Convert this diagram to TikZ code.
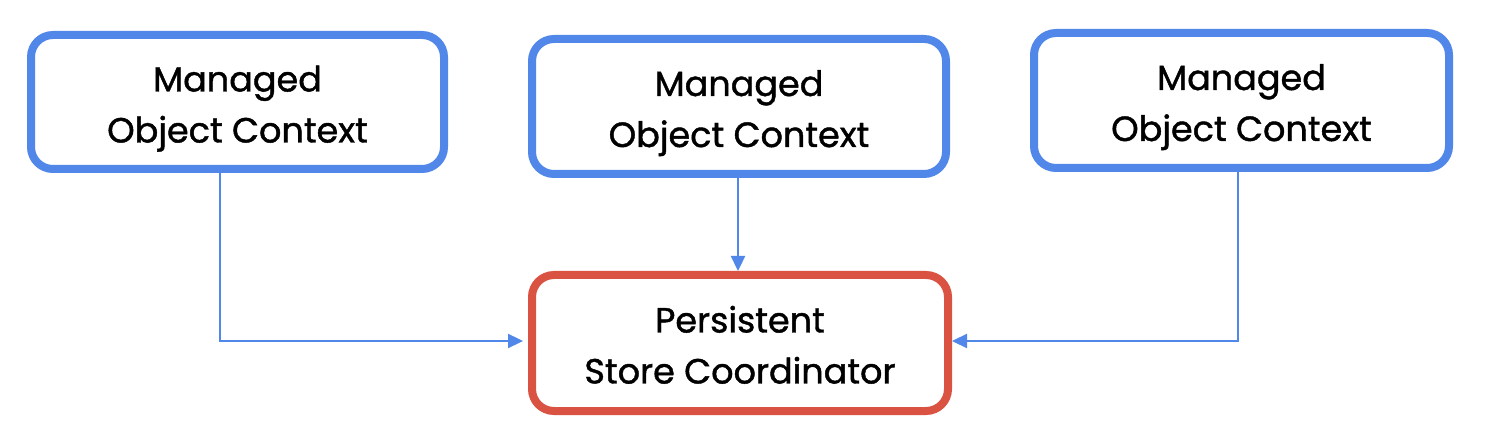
\documentclass[tikz,border=0pt]{standalone}
\usepackage{fontspec}
\setmainfont[FakeBold=1.2]{Poppins}
\usetikzlibrary{arrows.meta}
\definecolor{boxblue}{HTML}{5087E8}
\definecolor{boxred}{HTML}{D95242}
\newcommand\twoline[2]{\makebox[0pt]{\raisebox{-40.5pt}[0pt][0pt]{\begin{tabular}[b]{@{}c@{}}#1\\#2\end{tabular}}}}
\tikzset{
  ctxbox/.style={draw=boxblue, line width=8pt, rounded corners=22pt, fill=white,
    minimum width=#1, inner sep=0pt,
    font=\fontsize{35}{51}\selectfont},
  ctxbox/.default=414pt,
  psbox/.style={draw=boxred, line width=8pt, rounded corners=22pt, fill=white,
    minimum width=416pt, minimum height=136pt, inner sep=0pt,
    font=\fontsize{35}{51}\selectfont},
  conn/.style={draw=boxblue, line width=2.3pt, -{Triangle[length=15pt,width=14pt]}}
}
\begin{document}
\begin{tikzpicture}[x=1pt,y=-1pt]
\useasboundingbox (0,0) rectangle (1508,438);
\node[ctxbox=413pt, minimum height=134pt] (m1) at (237.5,102) {\twoline{Managed}{Object Context}};
\node[ctxbox=414pt, minimum height=135pt] (m2) at (739,106.5) {\twoline{Managed}{Object Context}};
\node[ctxbox=415pt, minimum height=135pt] (m3) at (1241.5,100.5) {\twoline{Managed}{Object Context}};
\node[psbox] (ps) at (740,343) {\twoline{Persistent}{Store Coordinator}};
\coordinate (c1) at (220,341);
\coordinate (c3) at (1238,341);
\draw[conn, shorten >=5pt] (m1.south -| c1) -- (c1) -- (ps.west |- c1);
\draw[conn] (m2.south -| 738,0) -- (ps.north -| 738,0);
\draw[conn] (m3.south -| c3) -- (c3) -- (ps.east |- c3);
\end{tikzpicture}
\end{document}
